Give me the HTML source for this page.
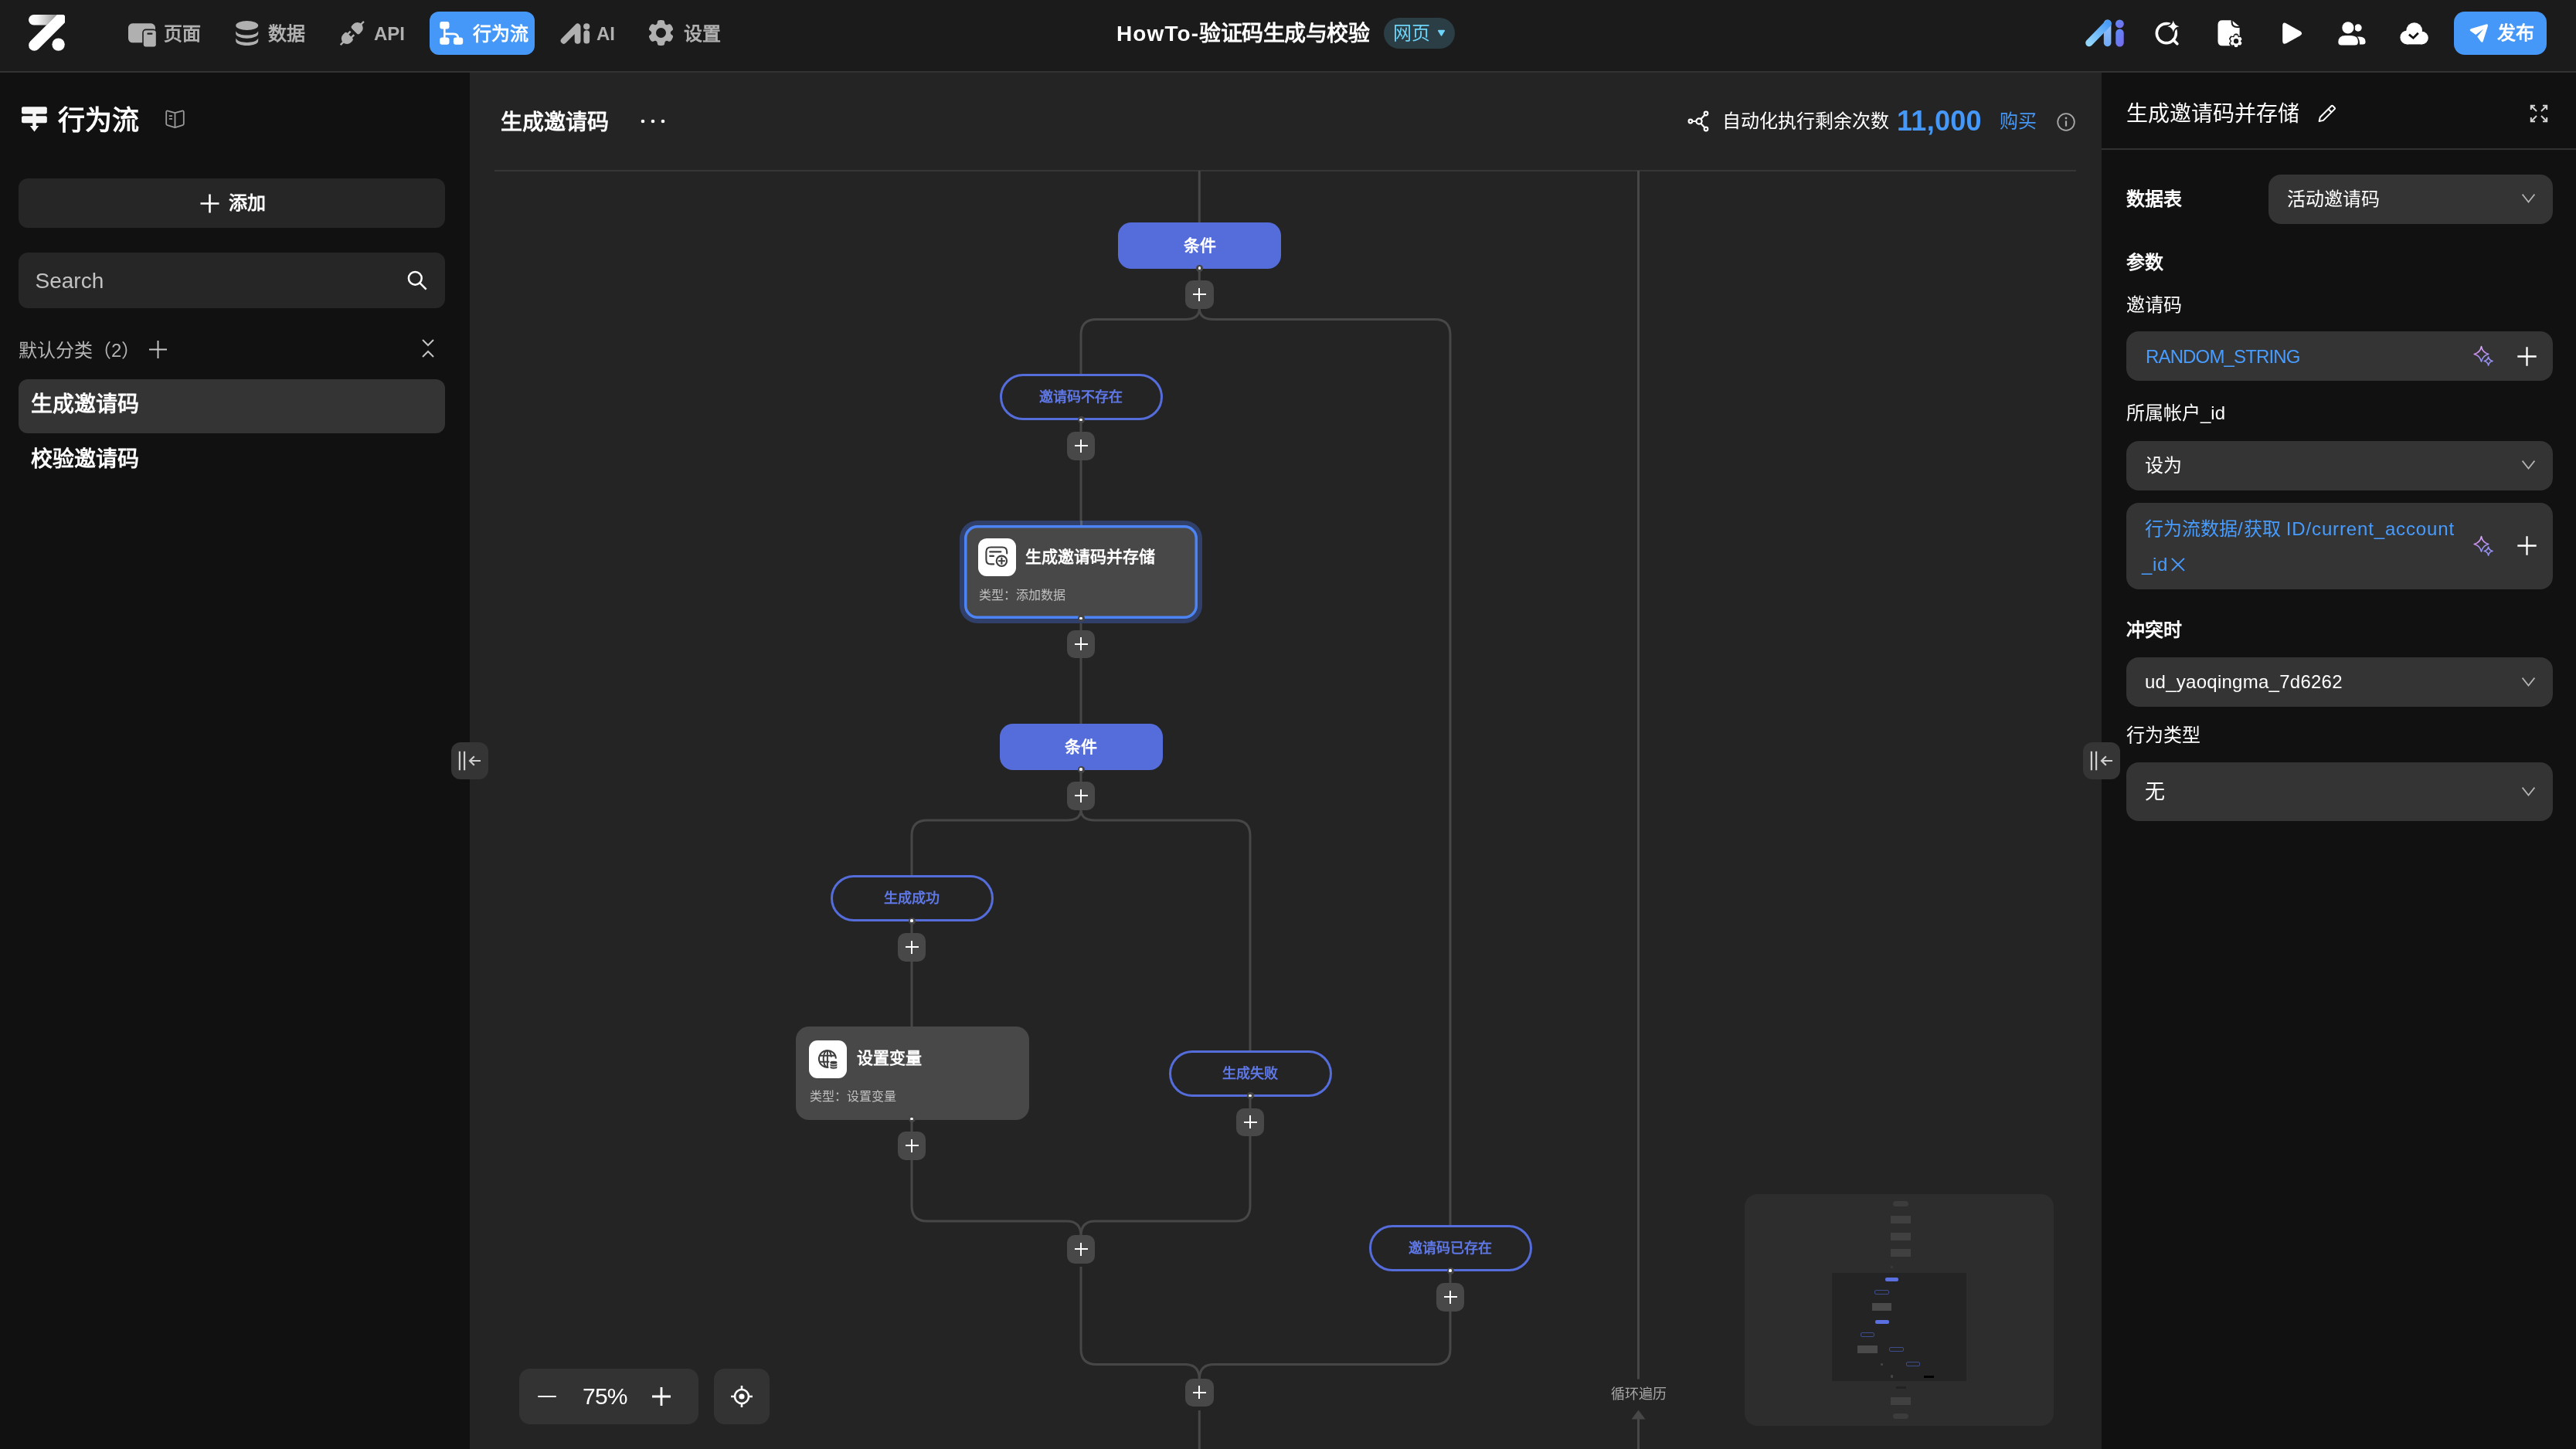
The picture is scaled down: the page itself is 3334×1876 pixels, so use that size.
<!DOCTYPE html>
<html lang="zh-CN">
<head>
<meta charset="utf-8">
<title>HowTo-验证码生成与校验</title>
<style>
*{box-sizing:border-box;margin:0;padding:0}
html,body{width:3334px;height:1876px;overflow:hidden;background:#111}
body{font-family:"Liberation Sans",sans-serif;color:#fff;position:relative;will-change:transform}
.abs{position:absolute}
svg{display:block;position:absolute;overflow:visible}
.t{position:absolute;white-space:nowrap;line-height:1}
.b{font-weight:bold}
/* top bar */
#top{position:absolute;left:0;top:0;width:3334px;height:94px;background:#1b1b1b;border-bottom:2px solid #333}
.nav{color:#b0b0b0;font-size:24px;font-weight:bold}
/* sidebar */
#side{position:absolute;left:0;top:94px;width:608px;height:1782px;background:#111}
/* canvas */
#cv{position:absolute;left:608px;top:94px;width:2112px;height:1782px;background:#242424;overflow:hidden}
/* panel */
#pn{position:absolute;left:2720px;top:94px;width:614px;height:1782px;background:#111}
.sel{position:absolute;background:#343434;border-radius:16px;font-size:24px}
.plus{position:absolute;width:36.5px;height:36.5px;border-radius:10px;background:#484848}
.plus:before{content:"";position:absolute;left:9.75px;top:17.05px;width:17px;height:2.3px;background:#fff}
.plus:after{content:"";position:absolute;left:17.1px;top:9.7px;width:2.3px;height:17px;background:#fff}
.cond{position:absolute;width:211px;height:60px;border-radius:17px;background:#556cdb;color:#fff;font-size:21px;font-weight:bold;text-align:center;line-height:60px}
.pill{position:absolute;width:211px;height:60px;border-radius:30px;border:3px solid #556cdb;color:#5f78e8;font-size:18px;font-weight:bold;text-align:center;line-height:54px;background:#242424}
.node{position:absolute;width:302px;height:121px;border-radius:17px;background:#484848}
.node .ic{position:absolute;left:17.5px;top:17.5px;width:49px;height:49px;border-radius:11px;background:#fff}
.node .tt{position:absolute;left:79px;top:30px;font-size:21px;font-weight:bold;line-height:1;white-space:nowrap}
.node .st{position:absolute;left:18.5px;top:83px;font-size:16px;color:#c0c0c0;line-height:1;white-space:nowrap}
.dot{position:absolute;width:9px;height:9px;border-radius:50%;background:#464646}
.dot:after{content:"";position:absolute;left:2.9px;top:2.9px;width:3.2px;height:3.2px;border-radius:50%;background:#fff}
</style>
</head>
<body>
<!-- TOPBAR -->
<div id="top">
<svg style="left:36.5px;top:19.3px" width="47" height="47" viewBox="0 0 47 47">
<defs><linearGradient id="lgz" x1="0" x2="1" y1="0" y2="0"><stop offset="0" stop-color="#fff"/><stop offset=".3" stop-color="#f6f6f6"/><stop offset="1" stop-color="#949494"/></linearGradient></defs>
<path d="M6.8 0H36.7L23.1 13.6H6.8A6.8 6.8 0 0 1 6.8 0Z" fill="url(#lgz)"/>
<path d="M36.7 0H44.5Q47 0 47 2.5V10.3L12.46 44.86A7.3 7.3 0 0 1 2.14 34.54Z" fill="#fff"/>
<circle cx="38.6" cy="38.6" r="8.2" fill="#fff"/>
</svg>
<!-- pages -->
<svg style="left:166px;top:30px" width="37" height="32" viewBox="0 0 37 32">
<rect x="0" y="0.3" width="35" height="25" rx="5.5" fill="#b0b0b0"/>
<rect x="18.2" y="7.6" width="18.6" height="24" rx="4.5" fill="#1b1b1b"/>
<rect x="19.8" y="9.2" width="16" height="21.4" rx="3" fill="#b0b0b0"/>
<rect x="24.3" y="12.6" width="7.2" height="2.2" rx="1" fill="#1b1b1b"/>
</svg>
<div class="t nav" style="left:212px;top:32px">页面</div>
<!-- data -->
<svg style="left:305px;top:27px" width="30" height="33" viewBox="0 0 30 33">
<ellipse cx="14.7" cy="6" rx="14.5" ry="5.9" fill="#b0b0b0"/>
<path d="M.2 13.2C2 17 8 18.6 14.7 18.6S27.4 17 29.2 13.2V16.6C29.2 20 22.7 22.7 14.7 22.7S.2 20 .2 16.6Z" fill="#b0b0b0"/>
<path d="M.2 22.6C2 26.4 8 28 14.7 28S27.4 26.4 29.2 22.6V26C29.2 29.4 22.7 32.1 14.7 32.1S.2 29.4 .2 26Z" fill="#b0b0b0"/>
</svg>
<div class="t nav" style="left:347px;top:32px">数据</div>
<!-- api -->
<svg style="left:440px;top:27px" width="32" height="32" viewBox="0 0 32 32">
<g fill="#b0b0b0" transform="translate(15.8 16) rotate(45)">
<path d="M-4.6 -4H4.6Q7.2 -4 7.2 -6.6V-9.6A7.2 7.2 0 0 0 -7.2 -9.6V-6.6Q-7.2 -4 -4.6 -4Z"/>
<path d="M-4.6 4.2H4.6Q7.2 4.2 7.2 6.8V9.6A7.2 7.2 0 0 1 -7.2 9.6V6.8Q-7.2 4.2 -4.6 4.2Z"/>
<rect x="-4.5" y="-.2" width="2.5" height="5"/><rect x="2" y="-.2" width="2.5" height="5"/>
<rect x="-1.15" y="-21.4" width="2.3" height="5.4"/><rect x="-1.15" y="16" width="2.3" height="5.4"/>
</g>
</svg>
<div class="t nav" style="left:484px;top:32px">API</div>
<!-- flow active -->
<div class="abs" style="left:556px;top:15px;width:136px;height:56px;border-radius:12px;background:#4598f7"></div>
<svg style="left:568.8px;top:28px" width="31" height="30" viewBox="0 0 31 30">
<rect x=".2" y=".1" width="12.3" height="9.4" rx="3" fill="#fff"/>
<rect x=".2" y="20.5" width="12.3" height="9.3" rx="3" fill="#fff"/>
<rect x="17.9" y="20.5" width="12.3" height="9.3" rx="3" fill="#fff"/>
<path d="M6.3 9V21M6.3 15.9H18Q23.9 15.9 23.9 21.8" fill="none" stroke="#fff" stroke-width="2.6"/>
</svg>
<div class="t nav" style="left:612px;top:32px;color:#fff">行为流</div>
<!-- ai -->
<svg style="left:724.5px;top:29.5px" width="39" height="28" viewBox="0 0 39 28">
<path d="M4.6 22.8L22.6 4.5V22.8" fill="none" stroke="#b0b0b0" stroke-width="7.8" stroke-linecap="round" stroke-linejoin="round"/>
<circle cx="34.2" cy="4.3" r="4.1" fill="#b0b0b0"/>
<rect x="30.4" y="9.2" width="7.7" height="17.4" rx="3.85" fill="#b0b0b0"/>
</svg>
<div class="t nav" style="left:772px;top:32px">AI</div>
<!-- gear -->
<svg style="left:839px;top:26px" width="33" height="33" viewBox="-16.5 -16.5 33 33"><path fill="#b0b0b0" fill-rule="evenodd" d="M12.3 0.0L12.3 0.5L12.5 1.1L12.9 1.7L13.8 2.4L14.8 3.3L15.4 4.1L15.6 4.9L15.4 5.6L15.2 6.3L14.9 7.0L14.6 7.6L14.3 8.2L13.9 8.9L13.5 9.5L13.1 10.0L12.6 10.6L12.0 11.0L11.3 11.3L10.2 11.2L9.0 10.7L7.9 10.3L7.2 10.3L6.6 10.4L6.2 10.7L5.7 11.0L5.3 11.4L5.0 12.1L4.8 13.1L4.5 14.4L4.1 15.4L3.5 15.9L2.9 16.2L2.2 16.3L1.4 16.4L0.7 16.5L0.0 16.5L-0.7 16.5L-1.4 16.4L-2.2 16.3L-2.9 16.2L-3.5 15.9L-4.1 15.4L-4.5 14.4L-4.8 13.1L-5.0 12.1L-5.3 11.4L-5.7 11.0L-6.1 10.7L-6.6 10.4L-7.2 10.3L-7.9 10.3L-9.0 10.7L-10.2 11.2L-11.3 11.3L-12.0 11.0L-12.6 10.6L-13.1 10.0L-13.5 9.5L-13.9 8.9L-14.3 8.3L-14.6 7.6L-14.9 7.0L-15.2 6.3L-15.4 5.6L-15.6 4.9L-15.4 4.1L-14.8 3.3L-13.8 2.4L-12.9 1.7L-12.5 1.1L-12.3 0.5L-12.3 0.0L-12.3 -0.5L-12.5 -1.1L-12.9 -1.7L-13.8 -2.4L-14.8 -3.3L-15.4 -4.1L-15.6 -4.9L-15.4 -5.6L-15.2 -6.3L-14.9 -7.0L-14.6 -7.6L-14.3 -8.3L-13.9 -8.9L-13.5 -9.5L-13.1 -10.0L-12.6 -10.6L-12.0 -11.0L-11.3 -11.3L-10.2 -11.2L-9.0 -10.7L-7.9 -10.3L-7.2 -10.3L-6.6 -10.4L-6.2 -10.7L-5.7 -11.0L-5.3 -11.4L-5.0 -12.1L-4.8 -13.1L-4.5 -14.4L-4.1 -15.4L-3.5 -15.9L-2.9 -16.2L-2.2 -16.3L-1.4 -16.4L-0.7 -16.5L-0.0 -16.5L0.7 -16.5L1.4 -16.4L2.2 -16.3L2.9 -16.2L3.5 -15.9L4.1 -15.4L4.5 -14.4L4.8 -13.1L5.0 -12.1L5.3 -11.4L5.7 -11.0L6.1 -10.7L6.6 -10.4L7.2 -10.3L7.9 -10.3L9.0 -10.7L10.2 -11.2L11.3 -11.3L12.0 -11.0L12.6 -10.6L13.1 -10.0L13.5 -9.5L13.9 -8.9L14.3 -8.2L14.6 -7.6L14.9 -7.0L15.2 -6.3L15.4 -5.6L15.6 -4.9L15.4 -4.1L14.8 -3.3L13.8 -2.4L12.9 -1.7L12.5 -1.1L12.3 -0.5ZM6.50 0A6.50 6.50 0 1 0 -6.50 0A6.50 6.50 0 1 0 6.50 0Z"/></svg>
<div class="t nav" style="left:885px;top:32px">设置</div>
<!-- title -->
<div class="t b" style="left:1445px;top:29.8px;font-size:28px"><span style="letter-spacing:1.1px">HowTo-</span><span style="letter-spacing:-.45px">验证码生成与校验</span></div>
<div class="abs" style="left:1791px;top:23px;width:92px;height:40px;border-radius:20px;background:#2b3e45"></div>
<div class="t" style="left:1803px;top:31px;font-size:24px;color:#6dd4f7">网页</div>
<svg style="left:1859.5px;top:38.4px" width="11" height="10" viewBox="0 0 13 10" preserveAspectRatio="none"><path d="M2.2 0.8H10.8Q12.6 0.8 11.6 2.3L7.5 8.1Q6.5 9.3 5.5 8.1L1.4 2.3Q.4.8 2.2.8Z" fill="#6dd4f7"/></svg>

<!-- ai gradient -->
<svg style="left:2698px;top:24px" width="53" height="38" viewBox="0 0 53 38">
<defs>
<linearGradient id="ga1" x1="0" y1="1" x2="1" y2="0"><stop offset="0" stop-color="#93d6fb"/><stop offset="1" stop-color="#4a9bf6"/></linearGradient>
<linearGradient id="ga2" x1="0" y1="0" x2="0" y2="1"><stop offset="0" stop-color="#9cc3fa"/><stop offset="1" stop-color="#6fa9f7"/></linearGradient>
<linearGradient id="ga3" x1="0" y1="0" x2="1" y2="1"><stop offset="0" stop-color="#5c8ff8"/><stop offset="1" stop-color="#7a68ee"/></linearGradient>
</defs>
<rect x="24.8" y="1.5" width="9.6" height="34.7" rx="4.8" fill="url(#ga2)"/>
<path d="M5.9 31.5L30.2 6.4" stroke="url(#ga1)" stroke-width="9.4" stroke-linecap="round" fill="none"/>
<circle cx="45.4" cy="6.9" r="5.4" fill="url(#ga3)"/>
<rect x="40.3" y="13.6" width="10.4" height="22.8" rx="5.2" fill="url(#ga3)"/>
</svg>
<!-- search sparkle -->
<svg style="left:2788px;top:25px" width="34" height="35" viewBox="0 0 34 35">
<circle cx="15.8" cy="18.1" r="12.5" fill="none" stroke="#fff" stroke-width="3.6"/>
<path d="M24.6 26.4L29.9 31.7" stroke="#fff" stroke-width="3.6" stroke-linecap="round"/>
<path d="M24.8 1.6Q25.8 8.2 32.4 9.2Q25.8 10.2 24.8 16.8Q23.8 10.2 17.2 9.2Q23.8 8.2 24.8 1.6Z" fill="#fff" stroke="#1b1b1b" stroke-width="3.6" stroke-linejoin="round" paint-order="stroke"/>
</svg>
<!-- doc gear -->
<svg style="left:2869.5px;top:26px" width="33" height="36" viewBox="0 0 33 36">
<path d="M6.3 .3H18.6L28.6 8.4V27.4Q28.6 33.2 22.8 33.2H6.3Q.5 33.2 .5 27.4V6.1Q.5 .3 6.3 .3Z" fill="#fff"/>
<path d="M18.6 -.2V2.6Q18.8 8.8 25.2 9H29.2" fill="none" stroke="#1b1b1b" stroke-width="2"/>
<g transform="translate(24.1 27.2)"><path fill="#1b1b1b" d="M7.6 0.0L7.7 0.7L8.3 1.5L9.0 2.4L9.0 3.3L8.7 4.1L8.3 4.8L7.9 5.5L7.3 6.2L6.6 6.6L5.4 6.4L4.4 6.3L3.8 6.6L3.3 7.0L2.9 7.9L2.4 9.0L1.7 9.4L0.8 9.6L0.0 9.6L-0.8 9.6L-1.7 9.4L-2.4 9.0L-2.9 7.9L-3.3 7.0L-3.8 6.6L-4.4 6.3L-5.4 6.4L-6.6 6.6L-7.3 6.2L-7.9 5.5L-8.3 4.8L-8.7 4.1L-9.0 3.3L-9.0 2.4L-8.3 1.5L-7.7 0.7L-7.6 0.0L-7.7 -0.7L-8.3 -1.5L-9.0 -2.4L-9.0 -3.3L-8.7 -4.1L-8.3 -4.8L-7.9 -5.5L-7.3 -6.2L-6.6 -6.6L-5.4 -6.4L-4.4 -6.3L-3.8 -6.6L-3.3 -7.0L-2.9 -7.9L-2.4 -9.0L-1.7 -9.4L-0.8 -9.6L-0.0 -9.6L0.8 -9.6L1.7 -9.4L2.4 -9.0L2.9 -7.9L3.3 -7.0L3.8 -6.6L4.4 -6.3L5.4 -6.4L6.6 -6.6L7.3 -6.2L7.9 -5.5L8.3 -4.8L8.7 -4.1L9.0 -3.3L9.0 -2.4L8.3 -1.5L7.7 -0.7Z"/><path fill="#fff" fill-rule="evenodd" d="M5.8 0.0L5.9 0.4L6.1 0.8L6.7 1.3L7.3 2.0L7.3 2.5L7.2 3.0L7.0 3.4L6.8 3.9L6.5 4.3L6.2 4.7L5.8 5.1L5.3 5.3L4.5 5.2L3.7 4.9L3.3 4.9L2.9 5.0L2.6 5.3L2.4 5.7L2.2 6.5L2.0 7.3L1.5 7.6L1.0 7.7L0.5 7.8L0.0 7.8L-0.5 7.8L-1.0 7.7L-1.5 7.6L-2.0 7.3L-2.2 6.5L-2.4 5.7L-2.6 5.3L-2.9 5.0L-3.3 4.9L-3.7 4.9L-4.5 5.2L-5.3 5.3L-5.8 5.1L-6.2 4.7L-6.5 4.3L-6.8 3.9L-7.0 3.4L-7.2 3.0L-7.3 2.5L-7.3 2.0L-6.7 1.3L-6.1 0.8L-5.9 0.4L-5.8 0.0L-5.9 -0.4L-6.1 -0.8L-6.7 -1.3L-7.3 -2.0L-7.3 -2.5L-7.2 -3.0L-7.0 -3.4L-6.8 -3.9L-6.5 -4.3L-6.2 -4.7L-5.8 -5.1L-5.3 -5.3L-4.5 -5.2L-3.7 -4.9L-3.3 -4.9L-2.9 -5.0L-2.6 -5.3L-2.4 -5.7L-2.2 -6.5L-2.0 -7.3L-1.5 -7.6L-1.0 -7.7L-0.5 -7.8L-0.0 -7.8L0.5 -7.8L1.0 -7.7L1.5 -7.6L2.0 -7.3L2.2 -6.5L2.4 -5.7L2.6 -5.3L2.9 -5.0L3.3 -4.9L3.7 -4.9L4.5 -5.2L5.3 -5.3L5.8 -5.1L6.2 -4.7L6.5 -4.3L6.8 -3.9L7.0 -3.4L7.2 -3.0L7.3 -2.5L7.3 -2.0L6.7 -1.3L6.1 -0.8L5.9 -0.4ZM3.20 0A3.20 3.20 0 1 0 -3.20 0A3.20 3.20 0 1 0 3.20 0Z"/></g>
</svg>
<!-- play -->
<svg style="left:2953.5px;top:28.6px" width="27" height="29" viewBox="0 0 27 29">
<path d="M.2 4.6Q.2 -1.2 5.3 1.4L22.8 11.2Q27.6 14.2 22.8 17.2L5.3 27Q.2 29.6 .2 23.8Z" fill="#fff"/>
</svg>
<!-- users -->
<svg style="left:3026px;top:27.5px" width="37" height="31" viewBox="0 0 37 31">
<circle cx="26" cy="8" r="4.7" fill="#fff"/>
<path d="M20.5 19.4H27.8Q35.6 19.4 35.6 26Q35.6 29.6 32 29.6H20.5Z" fill="#fff"/>
<circle cx="12.9" cy="7.9" r="9.3" fill="#1b1b1b"/>
<path d="M-2 16.2H14Q28 16.2 28 28V32H-2Z" fill="#1b1b1b"/>
<circle cx="12.9" cy="7.9" r="7.6" fill="#fff"/>
<path d="M9.6 17.9H16.2Q25.9 17.9 25.9 26.4Q25.9 30.5 21.8 30.5H4.4Q.3 30.5 .3 26.4Q.3 17.9 9.6 17.9Z" fill="#fff"/>
</svg>
<!-- cloud -->
<svg style="left:3105.5px;top:28.6px" width="38" height="29" viewBox="0 0 38 29">
<g fill="#fff"><circle cx="18.7" cy="10.5" r="10.3"/><circle cx="9.4" cy="19.4" r="9"/><circle cx="28.5" cy="20.1" r="8.3"/><rect x="9.4" y="16" width="19.1" height="12.4"/></g>
<path d="M11.9 15.6L17.4 20.2L23.8 13.8" fill="none" stroke="#111" stroke-width="2.8"/>
</svg>
<!-- publish -->
<div class="abs" style="left:3176px;top:15px;width:120px;height:56px;border-radius:14px;background:#4598f7"></div>
<svg style="left:3195.6px;top:31px" width="25" height="25" viewBox="0 0 25 25">
<path d="M2 6.2L21.6 .5Q24.6 -.2 23.9 2.8L17.7 22.4Q16.6 24.8 14.8 22.8L10.2 16.6L18.4 6.6L8.3 13.9L1.6 9.2Q-.4 7.4 2 6.2Z" fill="#fff"/>
</svg>
<div class="t b" style="left:3232px;top:31px;font-size:24px">发布</div>
</div>
<!-- SIDEBAR -->
<div id="side"></div>
<!-- sidebar title -->
<svg style="left:27.5px;top:138px" width="33" height="33" viewBox="0 0 33 33" fill="#f5f5f5">
<rect x="0" y=".2" width="32.8" height="9.2" rx="2"/>
<rect x="0" y="12.3" width="32.8" height="8.9" rx="2"/>
<path d="M14.2 8H18.8V24.9H22.2L16.5 32.4L10.8 24.9H14.2Z"/>
</svg>
<div class="t b" style="left:75px;top:137.5px;font-size:35px">行为流</div>
<svg style="left:214px;top:141.5px" width="25" height="25" viewBox="0 0 25 25" fill="none" stroke="#9a9a9a" stroke-width="1.8" stroke-linejoin="round">
<path d="M12.5 4.2L3.4 1.6Q1.2 1 1.2 3.2V18.2Q1.2 19.8 2.8 20.2L12.5 23.2L22.2 20.2Q23.8 19.8 23.8 18.2V3.2Q23.8 1 21.6 1.6ZM12.5 4.2V23.2"/>
<path d="M4.8 8.2H9M4.8 11.8H9"/>
</svg>
<!-- add -->
<div class="abs" style="left:24px;top:231px;width:552px;height:64px;border-radius:12px;background:#262626"></div>
<svg style="left:259px;top:250.5px" width="25" height="25" viewBox="0 0 25 25"><path d="M12.5 0.5V24.5M0.5 12.5H24.5" stroke="#fff" stroke-width="2.6"/></svg>
<div class="t b" style="left:296px;top:251px;font-size:24px">添加</div>
<!-- search -->
<div class="abs" style="left:24px;top:327px;width:552px;height:72px;border-radius:12px;background:#262626"></div>
<div class="t" style="left:45.5px;top:349.5px;font-size:28px;color:#c2c2c2">Search</div>
<svg style="left:526.5px;top:350px" width="27" height="27" viewBox="0 0 27 27" fill="none" stroke="#fff" stroke-width="2.5"><circle cx="10.3" cy="10.3" r="8.4"/><path d="M16.4 16.4L24.6 24.6"/></svg>
<!-- category -->
<div class="t" style="left:24px;top:442px;font-size:24px;color:#b4b4b4">默认分类（2）</div>
<svg style="left:192.5px;top:441px" width="23" height="23" viewBox="0 0 23 23"><path d="M11.5 0V23M0 11.5H23" stroke="#c8c8c8" stroke-width="1.9"/></svg>
<svg style="left:546px;top:439px" width="16" height="24" viewBox="0 0 16 24" fill="none" stroke="#c4c4c4" stroke-width="2"><path d="M1 1L8 8L15 1M1 23L8 16L15 23"/></svg>
<!-- items -->
<div class="abs" style="left:24px;top:491px;width:552px;height:70px;border-radius:12px;background:#343434"></div>
<div class="t b" style="left:40px;top:509.5px;font-size:28px">生成邀请码</div>
<div class="t b" style="left:40px;top:580.5px;font-size:28px">校验邀请码</div>

<!-- CANVAS -->
<div id="cv"></div>
<div class="t b" style="left:648px;top:144.5px;font-size:28px">生成邀请码</div>
<svg style="left:829px;top:154px" width="32" height="6" viewBox="0 0 32 6" fill="#fff"><circle cx="3" cy="3" r="2.3"/><circle cx="16" cy="3" r="2.3"/><circle cx="29" cy="3" r="2.3"/></svg>
<div class="abs" style="left:640px;top:220px;width:2047px;height:2px;background:#363636"></div>
<svg style="left:2184px;top:143px" width="28" height="28" viewBox="0 0 28 28" fill="none" stroke="#fff" stroke-width="2.2"><circle cx="3.9" cy="14" r="2.3"/><circle cx="15" cy="14" r="3.6"/><circle cx="24" cy="4" r="2.3"/><circle cx="24" cy="24" r="2.3"/><path d="M6.2 14H11.4M17.3 11.2L22.4 5.8M17.3 16.8L22.4 22.2"/></svg>
<div class="t" style="left:2229.3px;top:145px;font-size:24px">自动化执行剩余次数</div>
<div class="t b" style="left:2455px;top:138.5px;font-size:36px;letter-spacing:.3px;color:#4598f7">11,000</div>
<div class="t" style="left:2588px;top:145px;font-size:24px;color:#4598f7">购买</div>
<svg style="left:2662px;top:145.5px" width="24" height="24" viewBox="0 0 24 24"><circle cx="12" cy="12" r="10.8" fill="none" stroke="#a8a8a8" stroke-width="1.8"/><circle cx="12" cy="7" r="1.4" fill="#a8a8a8"/><path d="M12 10.4V17.6" stroke="#a8a8a8" stroke-width="2.2"/></svg>
<svg style="left:0;top:0" width="3334" height="1876" viewBox="0 0 3334 1876" fill="none" stroke="#474747" stroke-width="3"><path d="M1552.3 221V288"/><path d="M1552.3 348V364"/><path d="M1552.3 399Q1552.3 413.5 1534 413.5H1419Q1399 413.5 1399 433.5V485"/><path d="M1552.3 399Q1552.3 413.5 1570.6 413.5H1857Q1877 413.5 1877 433.5V1587"/><path d="M1399 544V560 M1399 595V681 M1399 801V817 M1399 851V937 M1399 997V1013"/><path d="M1399 1048Q1399 1062 1380.7 1062H1200Q1180 1062 1180 1082V1134"/><path d="M1399 1048Q1399 1062 1417.3 1062H1598Q1618 1062 1618 1082V1360"/><path d="M1180 1193V1209 M1180 1244V1329 M1180 1449V1466"/><path d="M1618 1419V1436"/><path d="M1180 1501V1561Q1180 1581 1200 1581H1380.7Q1399 1581 1399 1600"/><path d="M1618 1470V1561Q1618 1581 1598 1581H1417.3Q1399 1581 1399 1600"/><path d="M1399 1640V1746.5Q1399 1766.5 1419 1766.5H1534Q1552.3 1766.5 1552.3 1786"/><path d="M1877 1645V1662 M1877 1697V1746.5Q1877 1766.5 1857 1766.5H1570.6Q1552.3 1766.5 1552.3 1786"/><path d="M1552.3 1826V1876"/><path d="M2120.5 221V1785.5 M2120.5 1836V1876"/><path d="M2120.5 1825.5L2129.5 1837.5H2111.5Z" fill="#474747" stroke="none"/></svg><div class="cond" style="left:1447px;top:288px">条件</div><div class="pill" style="left:1293.5px;top:484px">邀请码不存在</div><div class="node" style="left:1248px;top:679.6px;box-shadow:0 0 0 3.5px #4c84f5 inset,0 0 0 6px #30406a"><div class="ic"><svg style="left:0;top:0" width="49" height="49" viewBox="0 0 49 49" fill="none" stroke="#3d3d3d" stroke-width="2.1" stroke-linecap="round"><path d="M37.2 19.4V17.5Q37.2 11.5 31.2 11.5H16.4Q10.4 11.5 10.4 17.5V27.4Q10.4 33.4 16.4 33.4H20.2M15.2 17.4H29.4M15.2 22.9H20"/><circle cx="30.4" cy="29.3" r="6.7"/><path d="M30.4 25.6V33M26.7 29.3H34.1"/></svg></div><div class="tt">生成邀请码并存储</div><div class="st">类型：添加数据</div></div><div class="abs" style="left:1397.5px;top:673.6px;width:3px;height:6.2px;background:#56627e"></div><div class="cond" style="left:1293.5px;top:937px">条件</div><div class="pill" style="left:1074.5px;top:1133px">生成成功</div><div class="node" style="left:1029.5px;top:1329px"><div class="ic"><svg style="left:0;top:0" width="49" height="49" viewBox="0 0 49 49" fill="none" stroke="#3d3d3d" stroke-width="2"><path d="M34.9 23.6A11 11 0 1 0 25.4 34.8M23.9 12.9A5.2 11 0 0 0 23.9 34.9M23.9 12.9A5.2 11 0 0 1 29 21.6M23.9 12.9V34.9M13.8 19.8H34.2M13.8 27.8H26.4"/><g fill="#3d3d3d" stroke="#fff" stroke-width="1"><ellipse cx="31.9" cy="34.7" rx="5" ry="2.5"/><ellipse cx="31.9" cy="31.7" rx="5" ry="2.5"/><ellipse cx="31.9" cy="28.7" rx="5" ry="2.5"/></g></svg></div><div class="tt">设置变量</div><div class="st">类型：设置变量</div></div><div class="pill" style="left:1512.5px;top:1360px">生成失败</div><div class="pill" style="left:1771.5px;top:1586px">邀请码已存在</div><div class="plus" style="left:1534.1px;top:363px"></div><div class="plus" style="left:1380.8px;top:559px"></div><div class="plus" style="left:1380.8px;top:815.5px"></div><div class="plus" style="left:1380.8px;top:1012px"></div><div class="plus" style="left:1161.8px;top:1208px"></div><div class="plus" style="left:1161.8px;top:1465px"></div><div class="plus" style="left:1599.8px;top:1434.5px"></div><div class="plus" style="left:1380.8px;top:1599px"></div><div class="plus" style="left:1858.8px;top:1661px"></div><div class="plus" style="left:1534.1px;top:1784.5px"></div><div class="dot" style="left:1547.8px;top:342.5px"></div><div class="dot" style="left:1394.5px;top:539px"></div><div class="dot" style="left:1394.5px;top:796px"></div><div class="dot" style="left:1394.5px;top:991.5px"></div><div class="dot" style="left:1175.5px;top:1187.5px"></div><div class="dot" style="left:1175.5px;top:1444px"></div><div class="dot" style="left:1613.5px;top:1414px"></div><div class="dot" style="left:1872.5px;top:1640.5px"></div><div class="t" style="left:2085px;top:1796px;font-size:18px;color:#a6a6a6">循环遍历</div><div class="abs" style="left:672px;top:1772px;width:232px;height:72px;border-radius:14px;background:#333"></div>
<div class="abs" style="left:696px;top:1806.8px;width:24px;height:2.6px;border-radius:1.3px;background:#fff"></div>
<div class="t" style="left:754px;top:1793px;font-size:30px;letter-spacing:-.8px">75%</div>
<svg style="left:844px;top:1796px" width="24" height="24" viewBox="0 0 24 24"><path d="M12 0V24M0 12H24" stroke="#fff" stroke-width="2.8"/></svg>
<div class="abs" style="left:924px;top:1772px;width:72px;height:72px;border-radius:14px;background:#333"></div>
<svg style="left:945px;top:1793px" width="30" height="30" viewBox="0 0 30 30" fill="none" stroke="#fff" stroke-width="2.6"><circle cx="15" cy="15" r="9"/><circle cx="15" cy="15" r="3.6" fill="#fff" stroke="none"/><path d="M15 1V6M15 24V29M1 15H6M24 15H29"/></svg>
<div class="abs" style="left:2258px;top:1546px;width:400px;height:300px;border-radius:16px;background:#2d2d2d"></div><div class="abs" style="left:2371px;top:1648px;width:174px;height:140px;background:#242424"></div><div class="abs" style="left:2450px;top:1555px;width:20px;height:7px;background:#3c3c3c;border-radius:3.5px;"></div><div class="abs" style="left:2447px;top:1574px;width:26px;height:10px;background:#404040;"></div><div class="abs" style="left:2447px;top:1596px;width:26px;height:10px;background:#404040;"></div><div class="abs" style="left:2447px;top:1617px;width:26px;height:10px;background:#404040;"></div><div class="abs" style="left:2447px;top:1639px;width:3px;height:3px;background:#3a3a3a;border-radius:1px;"></div><div class="abs" style="left:2440px;top:1654px;width:17px;height:5px;background:#5a6fe0;border-radius:2px;"></div><div class="abs" style="left:2426px;top:1670px;width:19px;height:6px;border:1px solid #3c4c8c;border-radius:2px;"></div><div class="abs" style="left:2423px;top:1687px;width:25px;height:10px;background:#4a4a4a;"></div><div class="abs" style="left:2427px;top:1709px;width:18px;height:5px;background:#5a6fe0;border-radius:2px;"></div><div class="abs" style="left:2408px;top:1725px;width:18px;height:6px;border:1px solid #3c4c8c;border-radius:2px;"></div><div class="abs" style="left:2404px;top:1742px;width:26px;height:10px;background:#4a4a4a;"></div><div class="abs" style="left:2445px;top:1744px;width:19px;height:6px;border:1px solid #3c4c8c;border-radius:2px;"></div><div class="abs" style="left:2434px;top:1765px;width:3px;height:3px;background:#444;border-radius:1px;"></div><div class="abs" style="left:2467px;top:1763px;width:18px;height:6px;border:1px solid #3c4c8c;border-radius:2px;"></div><div class="abs" style="left:2447px;top:1780px;width:3px;height:4px;background:#444;border-radius:1px;"></div><div class="abs" style="left:2490px;top:1781px;width:13px;height:3px;background:#000;"></div><div class="abs" style="left:2454px;top:1795px;width:13px;height:3px;background:#222;"></div><div class="abs" style="left:2447px;top:1809px;width:26px;height:10px;background:#404040;"></div><div class="abs" style="left:2450px;top:1830px;width:20px;height:7px;background:#3c3c3c;border-radius:3.5px;"></div>
<!-- PANEL -->
<div id="pn"></div>
<div class="abs" style="left:2720px;top:192px;width:614px;height:2px;background:#303030"></div>
<div class="t" style="left:2752px;top:134px;font-size:28px">生成邀请码并存储</div>
<svg style="left:2999px;top:134px" width="27" height="27" viewBox="0 0 27 27" fill="none" stroke="#fff" stroke-width="2" stroke-linejoin="round"><path d="M18.6 3Q19.35 2.25 20.1 3L22.7 5.6Q23.45 6.35 22.7 7.1L7.93 21.87L2.63 23.07L3.83 17.77ZM14.47 7.13L18.57 11.23"/></svg>
<svg style="left:3274px;top:135px" width="24" height="24" viewBox="0 0 24 24" fill="none" stroke="#d4d4d4" stroke-width="2"><path d="M1.8 7V1.8H7M1.8 1.8L9 9M22.2 7V1.8H17M22.2 1.8L15 9M1.8 17V22.2H7M1.8 22.2L9 15M22.2 17V22.2H17M22.2 22.2L15 15"/></svg>
<div class="t b" style="left:2752px;top:245.7px;font-size:24px">数据表</div>
<div class="sel" style="left:2936px;top:226px;width:368px;height:64px"></div>
<div class="t" style="left:2960px;top:246px;font-size:24px">活动邀请码</div>
<svg class="chev" style="left:3263px;top:250px" width="19" height="14" viewBox="0 0 19 14" fill="none" stroke="#b4b4b4" stroke-width="1.7"><path d="M1.6 1.6L9.5 11.6L17.4 1.6"/></svg>
<div class="t b" style="left:2752px;top:327.8px;font-size:24px">参数</div>
<div class="t" style="left:2752px;top:382.6px;font-size:24px">邀请码</div>
<div class="sel" style="left:2752px;top:429px;width:552px;height:64px"></div>
<div class="t" style="left:2777px;top:450px;font-size:24px;letter-spacing:-.85px;color:#489cfd">RANDOM_STRING</div>
<svg style="left:3200px;top:447px" width="28" height="28" viewBox="0 0 28 28" fill="none" stroke-width="1.6" stroke-linejoin="round"><defs><linearGradient id="gs458" x1="0" y1="0" x2=".3" y2="1"><stop offset="0" stop-color="#d6c8fa"/><stop offset=".45" stop-color="#cf8ef0"/><stop offset="1" stop-color="#8f96f4"/></linearGradient></defs>
<path stroke="url(#gs458)" d="M11.5 1.6Q13 9.4 20.8 11.4Q13 13.4 11.5 21.2Q10 13.4 2.2 11.4Q10 9.4 11.5 1.6Z"/><path stroke="#9590f2" d="M20.6 15Q21.5 19.6 26 20.5Q21.5 21.4 20.6 26Q19.7 21.4 15.2 20.5Q19.7 19.6 20.6 15Z"/></svg>
<svg style="left:3257.5px;top:448.5px" width="25" height="25" viewBox="0 0 25 25"><path d="M12.5 .3V24.7M.3 12.5H24.7" stroke="#fff" stroke-width="2.3"/></svg><div class="t" style="left:2752px;top:522.7px;font-size:24px">所属帐户_id</div>
<div class="sel" style="left:2752px;top:571px;width:552px;height:64px"></div>
<div class="t" style="left:2776px;top:591px;font-size:24px">设为</div>
<svg class="chev" style="left:3263px;top:595px" width="19" height="14" viewBox="0 0 19 14" fill="none" stroke="#b4b4b4" stroke-width="1.7"><path d="M1.6 1.6L9.5 11.6L17.4 1.6"/></svg>
<div class="sel" style="left:2752px;top:651px;width:552px;height:112px"></div>
<div class="t" style="left:2776px;top:673px;font-size:24px;color:#489cfd">行为流数据<span style="letter-spacing:1.5px">/</span>获取 <span style="letter-spacing:.85px">ID/current_account</span></div>
<div class="t" style="left:2772px;top:719px;font-size:24px;letter-spacing:.6px;color:#489cfd">_id</div>
<svg style="left:2810.2px;top:722.2px" width="17.8" height="17.8" viewBox="0 0 20 20"><path d="M1 1L19 19M19 1L1 19" stroke="#489cfd" stroke-width="2.2"/></svg>
<svg style="left:3200px;top:692.6px" width="28" height="28" viewBox="0 0 28 28" fill="none" stroke-width="1.6" stroke-linejoin="round"><defs><linearGradient id="gsb" x1="0" y1="0" x2=".3" y2="1"><stop offset="0" stop-color="#d6c8fa"/><stop offset=".45" stop-color="#cf8ef0"/><stop offset="1" stop-color="#8f96f4"/></linearGradient></defs>
<path stroke="url(#gsb)" d="M11.5 1.6Q13 9.4 20.8 11.4Q13 13.4 11.5 21.2Q10 13.4 2.2 11.4Q10 9.4 11.5 1.6Z"/><path stroke="#9590f2" d="M20.6 15Q21.5 19.6 26 20.5Q21.5 21.4 20.6 26Q19.7 21.4 15.2 20.5Q19.7 19.6 20.6 15Z"/></svg>
<svg style="left:3257.5px;top:694px" width="25" height="25" viewBox="0 0 25 25"><path d="M12.5 .3V24.7M.3 12.5H24.7" stroke="#fff" stroke-width="2.3"/></svg><div class="t b" style="left:2752px;top:803.7px;font-size:24px">冲突时</div>
<div class="sel" style="left:2752px;top:851px;width:552px;height:64px"></div>
<div class="t" style="left:2776px;top:871px;font-size:24px;letter-spacing:.26px">ud_yaoqingma_7d6262</div>
<svg class="chev" style="left:3263px;top:876px" width="19" height="14" viewBox="0 0 19 14" fill="none" stroke="#b4b4b4" stroke-width="1.7"><path d="M1.6 1.6L9.5 11.6L17.4 1.6"/></svg>
<div class="t" style="left:2752px;top:939.7px;font-size:24px">行为类型</div>
<div class="sel" style="left:2752px;top:987px;width:552px;height:76px"></div>
<div class="t" style="left:2776px;top:1012px;font-size:26px">无</div>
<svg class="chev" style="left:3263px;top:1018px" width="19" height="14" viewBox="0 0 19 14" fill="none" stroke="#b4b4b4" stroke-width="1.7"><path d="M1.6 1.6L9.5 11.6L17.4 1.6"/></svg>

<div class="abs" style="left:584px;top:961px;width:48px;height:48px;border-radius:12px;background:#353535"></div>
<svg style="left:584px;top:961px" width="48" height="48" viewBox="0 0 48 48" fill="none" stroke="#cfcfcf" stroke-width="2.2"><path d="M10.9 11.8V36.2M17.1 11.8V36.2M38 24H24.2M29.8 18.2L24 24L29.8 29.8"/></svg><div class="abs" style="left:2696px;top:961px;width:48px;height:48px;border-radius:12px;background:#353535"></div>
<svg style="left:2696px;top:961px" width="48" height="48" viewBox="0 0 48 48" fill="none" stroke="#cfcfcf" stroke-width="2.2"><path d="M10.9 11.8V36.2M17.1 11.8V36.2M38 24H24.2M29.8 18.2L24 24L29.8 29.8"/></svg>
</body>
</html>
